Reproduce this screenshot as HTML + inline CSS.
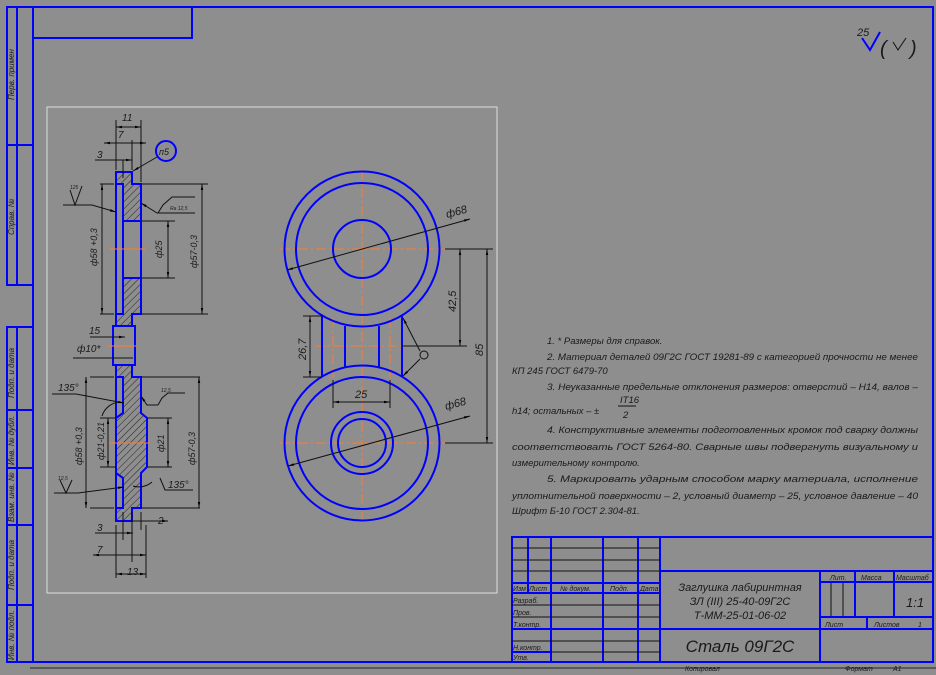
<!DOCTYPE html>
<html><head><meta charset="utf-8"><style>
html,body{margin:0;padding:0;background:#8e8e8e;}
svg{display:block}
text{font-family:"Liberation Sans","DejaVu Sans",sans-serif;font-style:italic;fill:#1a1a1a}
</style></head><body>
<svg width="936" height="675" viewBox="0 0 936 675" xmlns="http://www.w3.org/2000/svg">
<defs>
<pattern id="h" width="5" height="5" patternUnits="userSpaceOnUse" patternTransform="rotate(45)">
<rect width="5" height="5" fill="#8e8e8e"/><line x1="0" y1="0" x2="0" y2="5" stroke="#222" stroke-width="1"/></pattern>
<marker id="a" viewBox="0 0 10 10" refX="10" refY="5" markerWidth="6" markerHeight="6" orient="auto-start-reverse"><path d="M0,3L10,5L0,7z" fill="#000"/></marker>
</defs>
<rect width="936" height="675" fill="#8e8e8e"/>
<!-- frame -->
<g stroke="#0000ff" stroke-width="2" fill="none">
<rect x="33" y="7" width="900" height="655"/>
<rect x="33" y="7" width="159" height="31"/>
<rect x="7" y="7" width="26" height="278"/>
<line x1="17" y1="7" x2="17" y2="285"/><line x1="7" y1="145" x2="33" y2="145"/>
<rect x="7" y="327" width="26" height="335"/>
<line x1="17" y1="327" x2="17" y2="662"/>
<line x1="7" y1="410" x2="33" y2="410"/><line x1="7" y1="468" x2="33" y2="468"/>
<line x1="7" y1="525" x2="33" y2="525"/><line x1="7" y1="605" x2="33" y2="605"/>
</g>
<g font-size="8">
<text transform="translate(14,100) rotate(-90)">Перв. примен</text>
<text transform="translate(14,235) rotate(-90)">Справ. №</text>
<text transform="translate(14,398) rotate(-90)">Подп. и дата</text>
<text transform="translate(14,465) rotate(-90)">Инв. № дубл.</text>
<text transform="translate(14,522) rotate(-90)">Взам. инв. №</text>
<text transform="translate(14,590) rotate(-90)">Подп. и дата</text>
<text transform="translate(14,660) rotate(-90)">Инв. № подл.</text>
</g>
<line x1="30" y1="668" x2="936" y2="668" stroke="#222" stroke-width="1"/>
<!-- sheet area -->
<rect x="47" y="107" width="450" height="486" fill="none" stroke="#ddd" stroke-width="1"/>
<!-- roughness -->
<text x="857" y="36" font-size="11">25</text>
<path d="M862,38 L870,50 L880,32" stroke="#0000ff" stroke-width="2" fill="none"/>
<text x="880" y="55" font-size="20" font-style="normal">(</text><text x="910" y="55" font-size="20" font-style="normal">)</text>
<path d="M893,42 L898,50 L906,38" stroke="#111" fill="none"/>

<!-- LEFT SECTION VIEW -->
<g stroke="#0000ff" stroke-width="2">
<path d="M116,172 L132,172 L132,184 L141,184 L141,221 L123,221 L123,314 L116,314 Z" fill="url(#h)"/>
<path d="M123,278 L141,278 L141,314 L132,314 L132,326 L116,326 L116,314 L123,314Z" fill="url(#h)"/>
<rect x="116" y="184" width="7" height="130" fill="#8e8e8e"/>
<rect x="123" y="221" width="18" height="57" fill="none"/>
<rect x="113" y="326" width="22" height="39" fill="#8e8e8e"/>
<path d="M116,365 L132,365 L132,377 L141,377 L141,413 L147,418 L147,467 L141,473 L141,508 L132,508 L132,521 L116,521 Z" fill="url(#h)"/>
<path d="M116,377 L123,377 L123,413 L116,418 Z" fill="#8e8e8e"/>
<path d="M116,473 L123,478 L123,508 L116,508Z" fill="#8e8e8e"/>
<circle cx="166" cy="151" r="10" fill="none"/>
</g>
<g stroke="#ff7a30" stroke-width="1"><line x1="110" y1="249" x2="145" y2="249"/><line x1="108" y1="346" x2="136" y2="346"/><line x1="110" y1="443" x2="150" y2="443"/></g>
<g stroke="#111" stroke-width="1" fill="none">
<line x1="116" y1="120" x2="116" y2="170"/><line x1="141" y1="120" x2="141" y2="182"/><line x1="132" y1="140" x2="132" y2="170"/><line x1="123" y1="160" x2="123" y2="178"/>
<line x1="116" y1="127" x2="141" y2="127" marker-start="url(#a)" marker-end="url(#a)"/>
<line x1="104" y1="143" x2="146" y2="143" marker-start="url(#a)" marker-end="url(#a)"/>
<line x1="95" y1="160" x2="132" y2="160" marker-end="url(#a)"/>
<line x1="157" y1="157" x2="133" y2="171" marker-end="url(#a)"/>
<line x1="100" y1="184" x2="114" y2="184"/><line x1="100" y1="314" x2="114" y2="314"/>
<line x1="102" y1="184" x2="102" y2="314" marker-start="url(#a)" marker-end="url(#a)"/>
<line x1="141" y1="184" x2="208" y2="184"/><line x1="141" y1="314" x2="208" y2="314"/>
<line x1="202" y1="184" x2="202" y2="314" marker-start="url(#a)" marker-end="url(#a)"/>
<line x1="141" y1="221" x2="175" y2="221"/><line x1="141" y1="278" x2="175" y2="278"/>
<line x1="168" y1="221" x2="168" y2="278" marker-start="url(#a)" marker-end="url(#a)"/>
<path d="M63,205 L92,205 L116,212" marker-end="url(#a)"/><path d="M70,190 L75,205 L82,186"/>
<path d="M195,213 L157,213 L141,203" marker-end="url(#a)"/><path d="M158,213 L163,205 L172,197 L195,197"/>
<line x1="90" y1="337" x2="125" y2="337" marker-end="url(#a)"/>
<line x1="73" y1="358" x2="130" y2="358"/><line x1="117" y1="358" x2="133" y2="358"/>
<line x1="90" y1="377" x2="114" y2="377"/><line x1="90" y1="508" x2="114" y2="508"/>
<line x1="86" y1="377" x2="86" y2="508" marker-start="url(#a)" marker-end="url(#a)"/>
<line x1="141" y1="377" x2="200" y2="377"/><line x1="141" y1="508" x2="200" y2="508"/>
<line x1="199" y1="377" x2="199" y2="508" marker-start="url(#a)" marker-end="url(#a)"/>
<line x1="100" y1="418" x2="116" y2="418"/><line x1="100" y1="467" x2="116" y2="467"/>
<line x1="108" y1="418" x2="108" y2="467" marker-start="url(#a)" marker-end="url(#a)"/>
<line x1="147" y1="418" x2="172" y2="418"/><line x1="147" y1="467" x2="172" y2="467"/>
<line x1="168" y1="418" x2="168" y2="467" marker-start="url(#a)" marker-end="url(#a)"/>
<path d="M52,394 L76,394 L124,403" marker-end="url(#a)"/>
<path d="M102,416 A20,20 0 0 1 120,402"/>
<path d="M152,482 A20,20 0 0 1 133,486"/><path d="M193,490 L165,490 L160,478"/>
<path d="M158,405 L147,405 L141,396" marker-end="url(#a)"/><path d="M158,405 L162,398 L168,393 L185,393"/>
<path d="M54,493 L78,493 L124,487" marker-end="url(#a)"/><path d="M60,480 L66,493 L72,480"/>
<line x1="116" y1="525" x2="116" y2="578"/><line x1="146" y1="525" x2="146" y2="578"/><line x1="123" y1="512" x2="123" y2="540"/><line x1="132" y1="512" x2="132" y2="562"/><line x1="141" y1="512" x2="141" y2="530"/>
<line x1="132" y1="521" x2="168" y2="521" marker-end="url(#a)"/>
<line x1="95" y1="533" x2="133" y2="533" marker-end="url(#a)"/>
<line x1="93" y1="555" x2="146" y2="555" marker-start="url(#a)" marker-end="url(#a)"/>
<line x1="116" y1="574" x2="146" y2="574" marker-start="url(#a)" marker-end="url(#a)"/>
</g>
<g font-size="10">
<text x="122" y="121">11</text><text x="118" y="138">7</text><text x="97" y="158">3</text>
<text x="159" y="155" font-size="9">п5</text>
<text x="70" y="189" font-size="5">125</text><text x="170" y="210" font-size="5">Ra 12,5</text>
<text transform="translate(97,266) rotate(-90)" font-size="9">ф58 +0,3</text>
<text transform="translate(162,258) rotate(-90)" font-size="9">ф25</text>
<text transform="translate(197,268) rotate(-90)" font-size="9">ф57-0,3</text>
<text x="89" y="334">15</text><text x="77" y="352">ф10*</text>
<text x="58" y="391">135°</text><text x="161" y="392" font-size="5">12,5</text>
<text transform="translate(82,465) rotate(-90)" font-size="9">ф58 +0,3</text>
<text transform="translate(104,460) rotate(-90)" font-size="9">ф21-0,21</text>
<text transform="translate(164,452) rotate(-90)" font-size="9">ф21</text>
<text transform="translate(195,465) rotate(-90)" font-size="9">ф57-0,3</text>
<text x="168" y="488">135°</text><text x="58" y="480" font-size="5">12,5</text>
<text x="158" y="524">2</text><text x="97" y="531">3</text><text x="97" y="553">7</text><text x="127" y="575">13</text>
</g>

<!-- RIGHT VIEW -->
<g stroke="#ff7a30" stroke-width="1" stroke-dasharray="10,3,2,3">
<line x1="362" y1="170" x2="362" y2="520"/><line x1="280" y1="249" x2="445" y2="249"/><line x1="280" y1="443" x2="445" y2="443"/><line x1="315" y1="346" x2="402" y2="346"/>
<line x1="333" y1="318" x2="333" y2="378"/><line x1="390" y1="318" x2="390" y2="378"/>
</g>
<g stroke="#0000ff" stroke-width="2" fill="none">
<circle cx="362" cy="249" r="77.5"/><circle cx="362" cy="249" r="66"/><circle cx="362" cy="249" r="29"/>
<circle cx="362" cy="443" r="77.5"/><circle cx="362" cy="443" r="66"/><circle cx="362" cy="443" r="31"/><circle cx="362" cy="443" r="24"/>
<line x1="322" y1="316" x2="322" y2="377"/><line x1="345" y1="326" x2="345" y2="368"/><line x1="379" y1="326" x2="379" y2="368"/><line x1="402" y1="316" x2="402" y2="377"/>
</g>
<g stroke="#111" stroke-width="1" fill="none">
<line x1="287" y1="270" x2="470" y2="219" marker-start="url(#a)" marker-end="url(#a)"/>
<line x1="288" y1="466" x2="470" y2="416" marker-start="url(#a)" marker-end="url(#a)"/>
<line x1="445" y1="249" x2="493" y2="249"/><line x1="445" y1="443" x2="493" y2="443"/><line x1="402" y1="346" x2="467" y2="346"/>
<line x1="460" y1="249" x2="460" y2="346" marker-start="url(#a)" marker-end="url(#a)"/>
<line x1="487" y1="249" x2="487" y2="443" marker-start="url(#a)" marker-end="url(#a)"/>
<line x1="303" y1="316" x2="322" y2="316"/><line x1="303" y1="377" x2="322" y2="377"/>
<line x1="310" y1="316" x2="310" y2="377" marker-start="url(#a)" marker-end="url(#a)"/>
<line x1="333" y1="380" x2="333" y2="408"/><line x1="390" y1="380" x2="390" y2="408"/>
<line x1="333" y1="402" x2="390" y2="402" marker-start="url(#a)" marker-end="url(#a)"/>
<line x1="420" y1="351" x2="403" y2="318" marker-end="url(#a)"/><line x1="420" y1="359" x2="403" y2="376" marker-end="url(#a)"/>
<circle cx="424" cy="355" r="4"/>
</g>
<g font-size="11">
<text x="447" y="218" transform="rotate(-15 447 218)">ф68</text>
<text x="446" y="410" transform="rotate(-15 446 410)">ф68</text>
<text transform="translate(456,312) rotate(-90)">42,5</text>
<text transform="translate(483,356) rotate(-90)">85</text>
<text transform="translate(306,360) rotate(-90)">26,7</text>
<text x="355" y="398">25</text>
</g>

<!-- NOTES -->
<g font-size="9.5">
<text x="547" y="344">1. * Размеры для справок.</text>
<text x="547" y="360" textLength="371" lengthAdjust="spacingAndGlyphs">2. Материал деталей 09Г2С ГОСТ 19281-89 с категорией прочности не менее</text>
<text x="512" y="374">КП 245 ГОСТ 6479-70</text>
<text x="547" y="390" textLength="371" lengthAdjust="spacingAndGlyphs">3. Неуказанные предельные отклонения размеров: отверстий – Н14, валов –</text>
<text x="512" y="414">h14; остальных – ±</text>
<text x="620" y="403">IT16</text><line x1="618" y1="406" x2="636" y2="406" stroke="#111"/><text x="623" y="418">2</text>
<text x="547" y="433" textLength="371" lengthAdjust="spacingAndGlyphs">4. Конструктивные элементы подготовленных кромок под сварку должны</text>
<text x="512" y="450" textLength="406" lengthAdjust="spacingAndGlyphs">соответствовать ГОСТ 5264-80. Сварные швы подвергнуть визуальному и</text>
<text x="512" y="466">измерительному контролю.</text>
<text x="547" y="482" textLength="371" lengthAdjust="spacingAndGlyphs">5. Маркировать ударным способом марку материала, исполнение</text>
<text x="512" y="499" textLength="406" lengthAdjust="spacingAndGlyphs">уплотнительной поверхности – 2, условный диаметр – 25, условное давление – 40</text>
<text x="512" y="514">Шрифт Б-10 ГОСТ 2.304-81.</text>
</g>

<!-- TITLE BLOCK -->
<g stroke="#0000ff" stroke-width="2" fill="none">
<rect x="512" y="537" width="421" height="125"/>
<line x1="528" y1="537" x2="528" y2="593"/><line x1="551" y1="537" x2="551" y2="662"/><line x1="603" y1="537" x2="603" y2="662"/><line x1="638" y1="537" x2="638" y2="662"/><line x1="660" y1="537" x2="660" y2="662"/>
<line x1="512" y1="583" x2="660" y2="583"/><line x1="512" y1="593" x2="660" y2="593"/><line x1="512" y1="629" x2="660" y2="629"/><line x1="512" y1="652" x2="551" y2="652"/>
<line x1="660" y1="571" x2="933" y2="571"/><line x1="660" y1="629" x2="933" y2="629"/>
<line x1="820" y1="571" x2="820" y2="662"/><line x1="855" y1="571" x2="855" y2="617"/><line x1="894" y1="571" x2="894" y2="617"/>
<line x1="820" y1="582" x2="933" y2="582"/><line x1="820" y1="617" x2="933" y2="617"/><line x1="867" y1="617" x2="867" y2="629"/>
</g>
<g stroke="#111" stroke-width="1">
<line x1="512" y1="548" x2="660" y2="548"/><line x1="512" y1="560" x2="660" y2="560"/><line x1="512" y1="571" x2="660" y2="571"/>
<line x1="512" y1="605" x2="660" y2="605"/><line x1="512" y1="617" x2="660" y2="617"/><line x1="512" y1="641" x2="660" y2="641"/><line x1="551" y1="652" x2="660" y2="652"/>
<line x1="831" y1="583" x2="831" y2="616"/><line x1="843" y1="583" x2="843" y2="616"/>
</g>
<g font-size="7">
<text x="513" y="591">Изм</text><text x="529" y="591">Лист</text><text x="560" y="591">№ докум.</text><text x="610" y="591">Подп.</text><text x="640" y="591">Дата</text>
<text x="513" y="603">Разраб.</text><text x="513" y="615">Пров.</text><text x="513" y="627">Т.контр.</text><text x="513" y="650">Н.контр.</text><text x="513" y="660">Утв.</text>
<text x="830" y="580">Лит.</text><text x="861" y="580">Масса</text><text x="896" y="580">Масштаб</text>
<text x="825" y="627">Лист</text><text x="874" y="627">Листов</text><text x="918" y="627">1</text>
<text x="685" y="671">Копировал</text><text x="845" y="671">Формат</text><text x="893" y="671">А1</text>
</g>
<text x="906" y="607" font-size="13">1:1</text>
<g font-size="11" text-anchor="middle">
<text x="740" y="591">Заглушка лабиринтная</text>
<text x="740" y="605">ЗЛ (III) 25-40-09Г2С</text>
<text x="740" y="619">Т-ММ-25-01-06-02</text>
</g>
<text x="740" y="652" font-size="17" text-anchor="middle">Сталь 09Г2С</text>
</svg>
</body></html>
